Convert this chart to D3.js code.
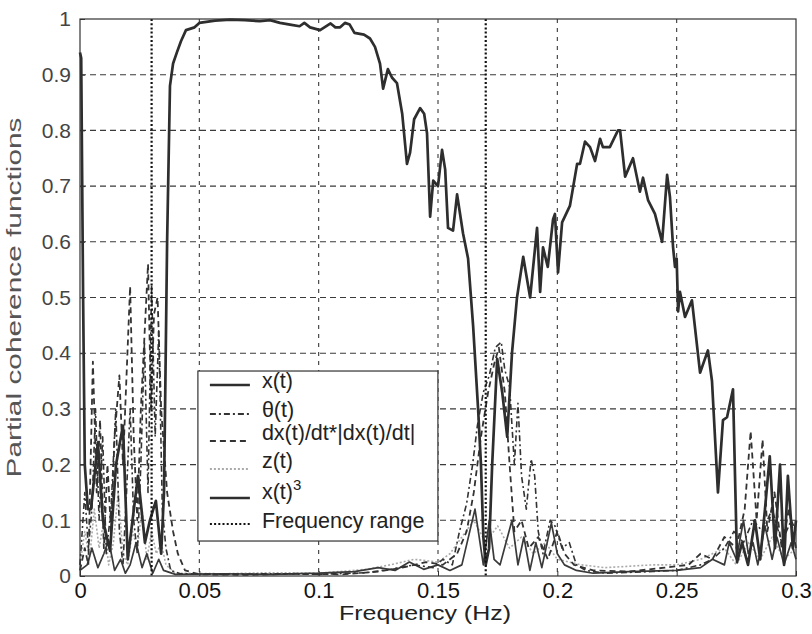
<!DOCTYPE html>
<html>
<head>
<meta charset="utf-8">
<script src="https://cdn.jsdelivr.net/npm/d3@7"></script>
<style>
  body { margin: 0; background: #fff; }
  svg { display: block; }
  text { font-family: "Liberation Sans", Arial, sans-serif; }
</style>
</head>
<body>
<svg id="chart" width="812" height="634"></svg>
<script>
// values: [frequency (Hz), coherence]
const xtData = [[0,0.94],[0.0005,0.93],[0.0013,0.5],[0.002,0.2],[0.0033,0.12],[0.0046,0.12],[0.0075,0.24],[0.0096,0.10],[0.0126,0.045],[0.0151,0.20],[0.018,0.27],[0.020,0.03],[0.022,0.10],[0.0243,0.18],[0.0272,0.06],[0.0293,0.10],[0.0318,0.135],[0.034,0.04],[0.0352,0.15],[0.0365,0.6],[0.0377,0.88],[0.039,0.92],[0.0406,0.94],[0.0423,0.96],[0.0444,0.98],[0.048,0.985],[0.050,0.993],[0.0566,0.997],[0.0629,0.999],[0.0691,0.998],[0.0754,0.996],[0.0796,0.998],[0.0838,0.993],[0.088,0.99],[0.092,0.987],[0.094,0.993],[0.0964,0.985],[0.1006,0.98],[0.105,0.992],[0.107,0.985],[0.109,0.985],[0.111,0.993],[0.113,0.99],[0.115,0.975],[0.119,0.972],[0.1215,0.965],[0.1236,0.95],[0.1257,0.92],[0.127,0.875],[0.129,0.91],[0.1307,0.895],[0.1328,0.885],[0.135,0.83],[0.137,0.74],[0.1383,0.76],[0.14,0.82],[0.1425,0.84],[0.1442,0.83],[0.1454,0.795],[0.1467,0.645],[0.148,0.71],[0.150,0.70],[0.1517,0.765],[0.153,0.73],[0.1542,0.625],[0.1563,0.62],[0.158,0.685],[0.1605,0.615],[0.1626,0.57],[0.1647,0.45],[0.1668,0.3],[0.168,0.2],[0.169,0.07],[0.170,0.02],[0.1714,0.05],[0.1727,0.2],[0.1748,0.39],[0.1769,0.33],[0.179,0.25],[0.181,0.40],[0.1831,0.50],[0.1857,0.573],[0.1886,0.5],[0.1915,0.625],[0.1928,0.51],[0.194,0.59],[0.196,0.555],[0.1982,0.64],[0.199,0.65],[0.2003,0.545],[0.202,0.635],[0.2053,0.665],[0.2083,0.74],[0.2095,0.74],[0.2116,0.78],[0.2137,0.77],[0.2158,0.745],[0.2179,0.785],[0.2191,0.77],[0.222,0.77],[0.2254,0.80],[0.2263,0.80],[0.2284,0.717],[0.2317,0.75],[0.2346,0.69],[0.2359,0.715],[0.238,0.675],[0.2409,0.65],[0.2439,0.60],[0.246,0.72],[0.2472,0.68],[0.2485,0.59],[0.2493,0.555],[0.250,0.57],[0.2506,0.475],[0.2514,0.51],[0.2535,0.465],[0.2564,0.495],[0.2598,0.365],[0.2631,0.405],[0.2648,0.35],[0.2673,0.15],[0.2694,0.28],[0.2711,0.285],[0.2736,0.335],[0.2753,0.025],[0.2774,0.06],[0.2799,0.02],[0.2828,0.1],[0.285,0.03],[0.287,0.12],[0.289,0.215],[0.2912,0.05],[0.2933,0.2],[0.295,0.02],[0.2966,0.18],[0.2987,0.05],[0.3,0.1]];

const thetaData = [[0,0.02],[0.002,0.15],[0.0035,0.05],[0.005,0.12],[0.0065,0.3],[0.008,0.1],[0.0095,0.25],[0.011,0.04],[0.013,0.12],[0.015,0.3],[0.0165,0.08],[0.018,0.02],[0.0195,0.15],[0.021,0.3],[0.0225,0.1],[0.024,0.04],[0.0255,0.2],[0.027,0.42],[0.0285,0.15],[0.030,0.52],[0.0315,0.25],[0.033,0.44],[0.0345,0.12],[0.036,0.05],[0.038,0.01],[0.042,0.004],[0.06,0.003],[0.08,0.004],[0.1,0.003],[0.12,0.006],[0.13,0.012],[0.14,0.02],[0.148,0.015],[0.152,0.03],[0.156,0.02],[0.159,0.08],[0.162,0.13],[0.1645,0.2],[0.1665,0.27],[0.169,0.33],[0.1715,0.36],[0.174,0.41],[0.1765,0.42],[0.178,0.37],[0.18,0.34],[0.182,0.2],[0.1835,0.31],[0.185,0.18],[0.187,0.12],[0.189,0.21],[0.1905,0.18],[0.192,0.08],[0.194,0.04],[0.197,0.1],[0.199,0.09],[0.202,0.05],[0.205,0.06],[0.208,0.02],[0.212,0.01],[0.22,0.005],[0.24,0.008],[0.25,0.01],[0.26,0.02],[0.265,0.03],[0.27,0.05],[0.274,0.08],[0.278,0.06],[0.282,0.1],[0.286,0.08],[0.29,0.12],[0.294,0.06],[0.298,0.1],[0.3,0.08]];

const dxData = [[0,0.01],[0.002,0.05],[0.0035,0.02],[0.0054,0.385],[0.007,0.15],[0.0084,0.28],[0.010,0.05],[0.0115,0.2],[0.013,0.08],[0.0145,0.25],[0.0165,0.36],[0.018,0.2],[0.021,0.52],[0.0225,0.25],[0.024,0.1],[0.0255,0.3],[0.0285,0.56],[0.0298,0.3],[0.031,0.47],[0.0325,0.5],[0.034,0.3],[0.0365,0.15],[0.039,0.08],[0.041,0.04],[0.044,0.01],[0.05,0.003],[0.07,0.002],[0.09,0.004],[0.11,0.003],[0.125,0.008],[0.135,0.015],[0.145,0.025],[0.152,0.02],[0.158,0.04],[0.162,0.08],[0.165,0.15],[0.168,0.25],[0.171,0.33],[0.1735,0.38],[0.1755,0.41],[0.178,0.33],[0.18,0.2],[0.182,0.08],[0.185,0.1],[0.188,0.05],[0.192,0.07],[0.196,0.03],[0.2,0.08],[0.203,0.04],[0.207,0.02],[0.215,0.01],[0.23,0.008],[0.245,0.015],[0.255,0.02],[0.26,0.04],[0.265,0.03],[0.27,0.07],[0.275,0.05],[0.2785,0.12],[0.281,0.26],[0.2835,0.1],[0.286,0.245],[0.288,0.08],[0.291,0.15],[0.294,0.05],[0.297,0.12],[0.3,0.05]];

const zData = [[0,0.02],[0.002,0.08],[0.004,0.03],[0.006,0.12],[0.008,0.05],[0.01,0.1],[0.012,0.02],[0.014,0.06],[0.016,0.15],[0.018,0.04],[0.02,0.02],[0.022,0.08],[0.024,0.05],[0.026,0.12],[0.028,0.03],[0.03,0.08],[0.032,0.04],[0.034,0.06],[0.036,0.02],[0.04,0.005],[0.06,0.004],[0.08,0.006],[0.1,0.005],[0.12,0.012],[0.13,0.02],[0.14,0.03],[0.15,0.025],[0.155,0.04],[0.16,0.07],[0.165,0.1],[0.17,0.06],[0.175,0.09],[0.18,0.05],[0.185,0.07],[0.19,0.04],[0.195,0.06],[0.2,0.03],[0.21,0.02],[0.22,0.015],[0.24,0.02],[0.25,0.02],[0.26,0.03],[0.27,0.05],[0.275,0.02],[0.28,0.06],[0.285,0.03],[0.29,0.07],[0.295,0.03],[0.3,0.05]];

const x3Data = [[0,0.01],[0.003,0.02],[0.005,0.05],[0.0075,0.015],[0.01,0.04],[0.012,0.065],[0.0145,0.01],[0.017,0.03],[0.019,0.005],[0.021,0.02],[0.0235,0.06],[0.026,0.015],[0.028,0.04],[0.0305,0.005],[0.033,0.03],[0.035,0.01],[0.04,0.003],[0.06,0.004],[0.08,0.003],[0.1,0.005],[0.115,0.008],[0.125,0.015],[0.132,0.01],[0.138,0.025],[0.144,0.012],[0.15,0.02],[0.155,0.01],[0.16,0.02],[0.1655,0.12],[0.169,0.02],[0.1715,0.1],[0.1735,0.03],[0.176,0.02],[0.1785,0.06],[0.181,0.1],[0.1835,0.02],[0.186,0.07],[0.1885,0.01],[0.191,0.06],[0.1935,0.015],[0.1975,0.095],[0.2,0.04],[0.203,0.02],[0.208,0.01],[0.215,0.005],[0.23,0.008],[0.25,0.01],[0.26,0.015],[0.265,0.03],[0.27,0.02],[0.272,0.06],[0.275,0.03],[0.278,0.1],[0.28,0.04],[0.282,0.06],[0.284,0.02],[0.287,0.09],[0.29,0.03],[0.292,0.07],[0.295,0.02],[0.298,0.06],[0.3,0.03]];

const rangeLines = [0.03, 0.17];
const xTicks = [0, 0.05, 0.1, 0.15, 0.2, 0.25, 0.3];
const yTicks = [0, 0.1, 0.2, 0.3, 0.4, 0.5, 0.6, 0.7, 0.8, 0.9, 1];
const legendNames = ["x(t)", "θ(t)", "dx(t)/dt*|dx(t)/dt|", "z(t)", "x(t)", "Frequency range"];

const margin = {top: 19, right: 16, bottom: 58, left: 80};
const W = 812, H = 634;
const iw = W - margin.left - margin.right, ih = H - margin.top - margin.bottom;

const svg = d3.select("#chart");
const g = svg.append("g").attr("transform", `translate(${margin.left},${margin.top})`);

const x = d3.scaleLinear().domain([0, 0.3]).range([0, iw]);
const y = d3.scaleLinear().domain([0, 1]).range([ih, 0]);

// grid
g.selectAll(".hgrid").data(yTicks.slice(1, -1)).enter().append("line")
  .attr("x1", 0).attr("x2", iw).attr("y1", d => y(d)).attr("y2", d => y(d))
  .attr("stroke", "#3a3a3a").attr("stroke-width", 1.1).attr("stroke-dasharray", "6,4");
g.selectAll(".vgrid").data(xTicks.slice(1, -1)).enter().append("line")
  .attr("y1", 0).attr("y2", ih).attr("x1", d => x(d)).attr("x2", d => x(d))
  .attr("stroke", "#3a3a3a").attr("stroke-width", 1.1).attr("stroke-dasharray", "4,5");

// styles of each series
const series = [
  {data: zData, color: "#aaa", width: 1.6, dash: "2,2"},
  {data: x3Data, color: "#3a3a3a", width: 1.7, dash: null},
  {data: thetaData, color: "#333", width: 1.6, dash: "6,3,2,3"},
  {data: dxData, color: "#333", width: 1.8, dash: "6,4"},
  {data: xtData, color: "#2e2e2e", width: 2.7, dash: null}
];

const line = d3.line().x(d => x(d[0])).y(d => y(d[1]));

g.selectAll(".series").data(series).enter().append("path")
  .attr("d", d => line(d.data))
  .attr("fill", "none")
  .attr("stroke", d => d.color)
  .attr("stroke-width", d => d.width)
  .attr("stroke-dasharray", d => d.dash)
  .attr("stroke-linejoin", "round");

// frequency range lines
g.selectAll(".range").data(rangeLines).enter().append("line")
  .attr("x1", d => x(d)).attr("x2", d => x(d)).attr("y1", 0).attr("y2", ih)
  .attr("stroke", "#111").attr("stroke-width", 2.2).attr("stroke-dasharray", "2,2.2");

// frame
g.append("rect").attr("width", iw).attr("height", ih)
  .attr("fill", "none").attr("stroke", "#333").attr("stroke-width", 1.2);

// axes
const xAxis = g.append("g").attr("transform", `translate(0,${ih})`)
  .call(d3.axisBottom(x).tickValues(xTicks).tickFormat(d3.format("")).tickSizeInner(-5).tickSizeOuter(0).tickPadding(6));
xAxis.select(".domain").remove();
xAxis.selectAll("text").attr("font-size", 22).attr("fill", "#111").attr("font-family", "Liberation Sans, Arial, sans-serif");
xAxis.selectAll("line").attr("stroke", "#333");

const yAxis = g.append("g")
  .call(d3.axisLeft(y).tickValues(yTicks).tickFormat(d3.format("")).tickSizeInner(-5).tickSizeOuter(0).tickPadding(9));
yAxis.select(".domain").remove();
yAxis.selectAll("text").attr("font-size", 21).attr("fill", "#444").attr("font-family", "Liberation Sans, Arial, sans-serif");
yAxis.selectAll("line").attr("stroke", "#333");

// axis titles
g.append("text").attr("x", 345).attr("y", ih + 44)
  .attr("text-anchor", "middle").attr("font-size", 20).attr("fill", "#222")
  .attr("textLength", 172).attr("lengthAdjust", "spacingAndGlyphs")
  .text("Frequency (Hz)");
g.append("text").attr("transform", `translate(-59,${ih / 2}) rotate(-90)`)
  .attr("text-anchor", "middle").attr("font-size", 20).attr("fill", "#555")
  .attr("textLength", 360).attr("lengthAdjust", "spacingAndGlyphs")
  .text("Partial coherence functions");

// legend
const lg = g.append("g").attr("transform", `translate(${x(0.0494)},${y(0.368)})`);
lg.append("rect").attr("width", 240).attr("height", 170)
  .attr("fill", "#fff").attr("stroke", "#333").attr("stroke-width", 1.2);

const legendStyles = [
  {color: "#2e2e2e", width: 2.6, dash: null},
  {color: "#333", width: 1.8, dash: "6,3,2,3"},
  {color: "#333", width: 2, dash: "6,4"},
  {color: "#aaa", width: 1.8, dash: "2,2"},
  {color: "#2e2e2e", width: 2.4, dash: null},
  {color: "#111", width: 2.2, dash: "2,2.2"}
];
const rowY = [14, 43, 70, 98, 127, 153];
const textDy = [3, 3, -1, -1, 1, 4];

const rows = lg.selectAll(".row").data(legendNames).enter().append("g")
  .attr("transform", (d, i) => `translate(0,${rowY[i]})`);
rows.append("line").attr("x1", 12).attr("x2", 52).attr("y1", 0).attr("y2", 0)
  .attr("stroke", (d, i) => legendStyles[i].color)
  .attr("stroke-width", (d, i) => legendStyles[i].width)
  .attr("stroke-dasharray", (d, i) => legendStyles[i].dash);
const lt = rows.append("text").attr("x", 64).attr("y", (d, i) => textDy[i])
  .attr("font-size", 21.5).attr("fill", "#222").text(d => d);
lt.filter((d, i) => i === 4).append("tspan")
  .attr("dy", -9).attr("font-size", 15).text("3");
</script>
</body>
</html>
